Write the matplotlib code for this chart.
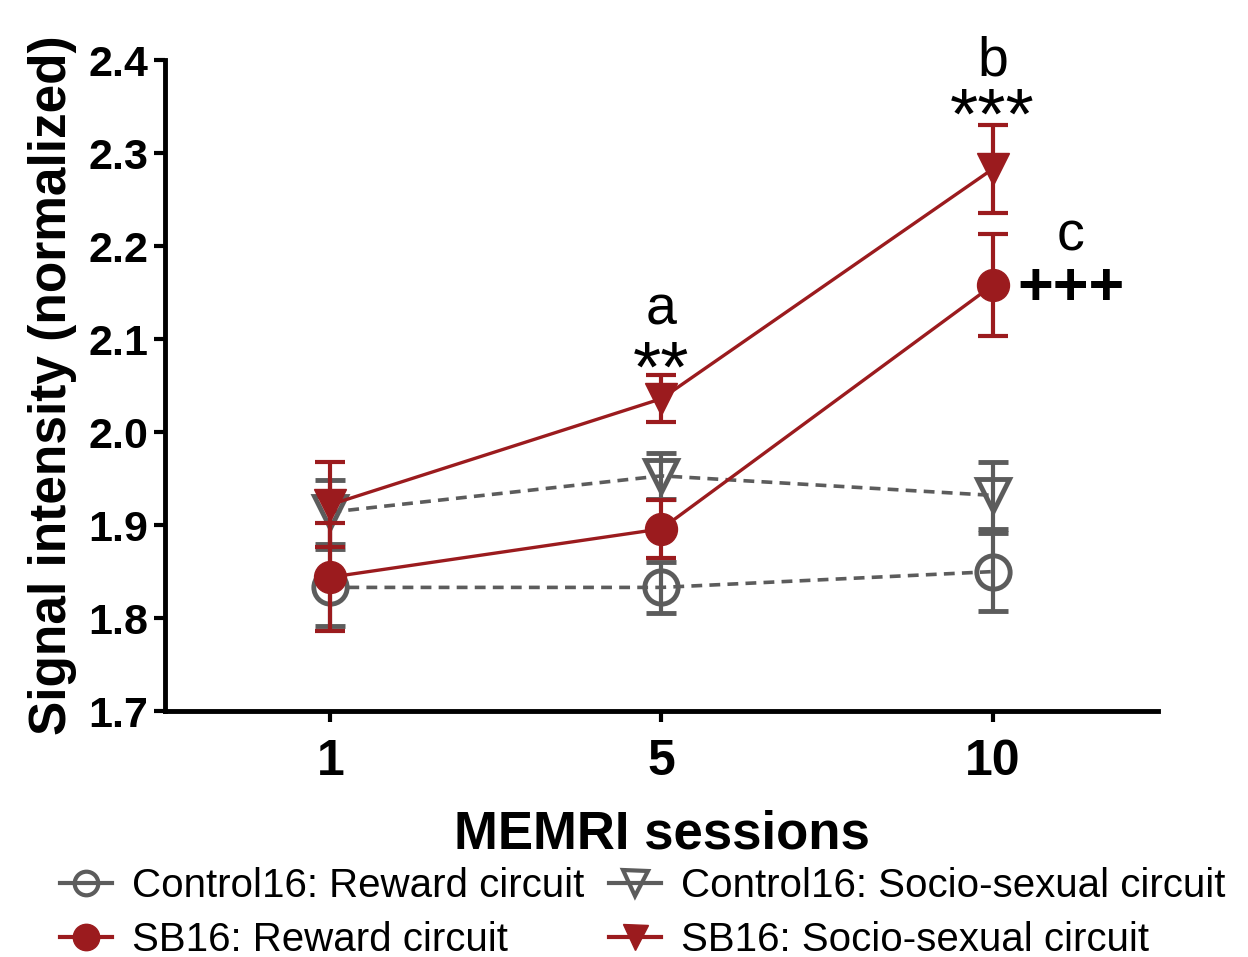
import matplotlib
matplotlib.use("Agg")
import matplotlib.pyplot as plt
from matplotlib.lines import Line2D

plt.rcParams['font.family'] = ['Liberation Sans', 'DejaVu Sans']

sessions = ["1", "5", "10"]
ctrl_reward = [1.833, 1.833, 1.850]
ctrl_reward_err = [0.041, 0.027, 0.042]
ctrl_socio = [1.914, 1.953, 1.932]
ctrl_socio_err = [0.034, 0.025, 0.036]
sb_reward = [1.844, 1.896, 2.158]
sb_reward_err = [0.058, 0.031, 0.055]
sb_socio = [1.922, 2.036, 2.283]
sb_socio_err = [0.046, 0.025, 0.047]

red = "#9b1b1e"
gray = "#5c5c5c"

x = list(range(len(sessions)))

fig = plt.figure(figsize=(12.48, 9.57), dpi=100)
ax = fig.add_axes([0.132, 0.257, 0.796, 0.680])

common = dict(capsize=11, capthick=3, elinewidth=3)
ax.errorbar(x, ctrl_reward, yerr=ctrl_reward_err, color=gray, ls=(0, (3, 2)), lw=2.6,
            marker='o', ms=24, mfc='none', mec=gray, mew=3.5, zorder=2, **common)
ax.errorbar(x, ctrl_socio, yerr=ctrl_socio_err, color=gray, ls=(0, (3, 2)), lw=2.6,
            marker='v', ms=23, mfc='none', mec=gray, mew=3.5, zorder=2, **common)
ax.errorbar(x, sb_reward, yerr=sb_reward_err, color=red, ls='-', lw=2.4,
            marker='o', ms=23, mfc=red, mec=red, zorder=3, **common)
ax.errorbar(x, sb_socio, yerr=sb_socio_err, color=red, ls='-', lw=2.4,
            marker='v', ms=23, mfc=red, mec=red, zorder=3, **common)

# significance marks
ax.text(1, 2.131, "a", ha='center', va='center', fontsize=40)
ax.text(1, 2.064, "**", ha='center', va='center', fontsize=52)
ax.text(2, 2.399, "b", ha='center', va='center', fontsize=40)
ax.text(2, 2.336, "***", ha='center', va='center', fontsize=52)
ax.text(2.236, 2.210, "c", ha='center', va='center', fontsize=40)
ax.text(2.236, 2.153, "+++", ha='center', va='center', fontsize=44, fontweight='bold')

ax.set_xlim(-0.5, 2.5)
ax.set_ylim(1.7, 2.4)
ax.set_xticks(x)
ax.set_xticklabels(sessions)
ax.set_yticks([1.7, 1.8, 1.9, 2.0, 2.1, 2.2, 2.3, 2.4])
ax.tick_params(axis='both', width=3, length=8)
ax.tick_params(axis='y', labelsize=31, pad=4)
ax.tick_params(axis='x', labelsize=36, pad=12)
for lab in ax.get_xticklabels() + ax.get_yticklabels():
    lab.set_fontweight('bold')

for s in ['top', 'right']:
    ax.spines[s].set_visible(False)
for s in ['left', 'bottom']:
    ax.spines[s].set_linewidth(3.5)

ax.set_xlabel("MEMRI sessions", fontsize=38, fontweight='bold', labelpad=18)
ax.set_ylabel("Signal intensity (normalized)", fontsize=37, fontweight='bold', labelpad=8)

handles = [
    Line2D([], [], color=gray, ls='-', lw=3, marker='o', ms=17, mfc='none', mec=gray, mew=3),
    Line2D([], [], color=red, ls='-', lw=3, marker='o', ms=19, mfc=red, mec=red),
    Line2D([], [], color=gray, ls='-', lw=3, marker='v', ms=18, mfc='none', mec=gray, mew=3),
    Line2D([], [], color=red, ls='-', lw=3, marker='v', ms=18, mfc=red, mec=red),
]
labels = ["Control16: Reward circuit", "SB16: Reward circuit",
          "Control16: Socio-sexual circuit", "SB16: Socio-sexual circuit"]
fig.legend(handles, labels, loc='lower center', bbox_to_anchor=(0.515, -0.04), ncol=2,
           frameon=False, fontsize=29, handlelength=1.3, columnspacing=0.6,
           handletextpad=0.5, labelspacing=0.4)

fig.savefig("out.png", dpi=100)
